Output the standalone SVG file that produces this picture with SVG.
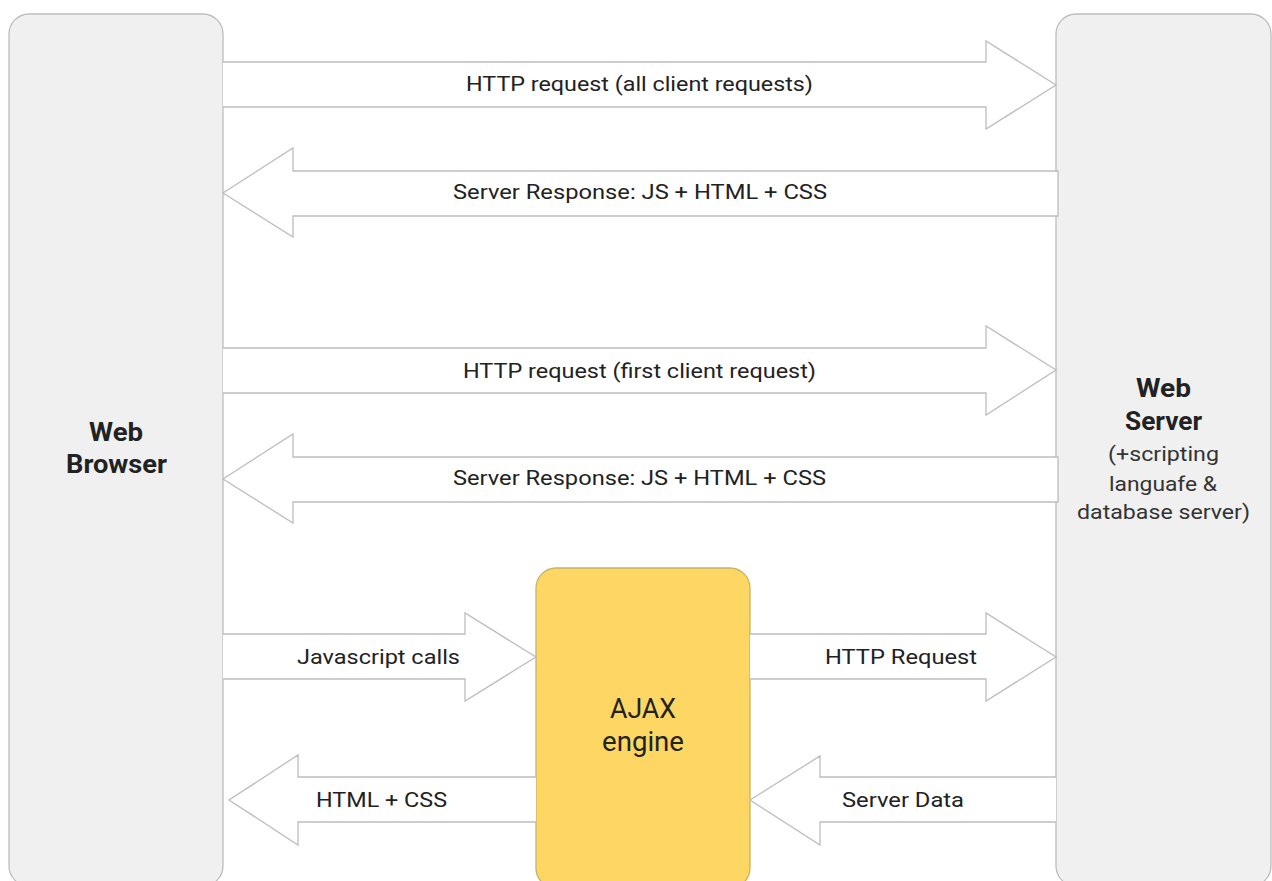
<svg xmlns="http://www.w3.org/2000/svg" width="1272" height="881" viewBox="0 0 1272 881">
<style>
.box{fill:#f0f0f0;stroke:#bdbdbd;stroke-width:1.3}
.ajax{fill:#fdd663;stroke:#c8b26a;stroke-width:1.3}
.arr{fill:#ffffff;stroke:#bdbdbd;stroke-width:1.3;stroke-linejoin:miter}
text{font-family:Roboto,"Liberation Sans",sans-serif;fill:#222;text-anchor:middle}
.lbl{font-size:21px}
.title{font-size:25px;font-weight:bold}
.sub{font-size:21px;fill:#333}
.big{font-size:27px}
</style>
<rect width="1272" height="881" fill="#ffffff"/>
<g id="web-browser">
<rect class="box" x="9" y="14" width="214" height="872" rx="20"/>
<text class="title" x="116" y="441" textLength="54" lengthAdjust="spacingAndGlyphs">Web</text>
<text class="title" x="116.5" y="473" textLength="101" lengthAdjust="spacingAndGlyphs">Browser</text>
</g>
<g id="web-server">
<rect class="box" x="1056" y="14" width="215" height="872" rx="20"/>
<text class="title" x="1163.5" y="397" textLength="55" lengthAdjust="spacingAndGlyphs">Web</text>
<text class="title" x="1163.5" y="430" textLength="77" lengthAdjust="spacingAndGlyphs">Server</text>
<text class="sub" x="1163.5" y="461" textLength="111" lengthAdjust="spacingAndGlyphs">(+scripting</text>
<text class="sub" x="1163" y="491" textLength="108" lengthAdjust="spacingAndGlyphs">languafe &amp;</text>
<text class="sub" x="1163.5" y="519" textLength="173" lengthAdjust="spacingAndGlyphs">database server)</text>
</g>
<g id="ajax-engine">
<rect class="ajax" x="536" y="568" width="214" height="320" rx="20"/>
<text class="big" x="643" y="718" textLength="66" lengthAdjust="spacingAndGlyphs">AJAX</text>
<text class="big" x="643" y="751" textLength="82" lengthAdjust="spacingAndGlyphs">engine</text>
</g>
<g id="connectors">
<g id="c1">
<path class="arr" d="M223,62 H986 V41 L1056,85 L986,129 V107 H223"/>
<text class="lbl" x="639.5" y="91" textLength="347" lengthAdjust="spacingAndGlyphs">HTTP request (all client requests)</text>
</g>
<g id="c2">
<path class="arr" d="M1058,171 H293 V148 L223,193 L293,237 V216 H1058 Z"/>
<text class="lbl" x="640" y="199" textLength="374" lengthAdjust="spacingAndGlyphs">Server Response: JS + HTML + CSS</text>
</g>
<g id="c3">
<path class="arr" d="M223,348 H986 V326 L1056,370 L986,415 V393 H223"/>
<text class="lbl" x="639.5" y="378" textLength="353" lengthAdjust="spacingAndGlyphs">HTTP request (first client request)</text>
</g>
<g id="c4">
<path class="arr" d="M1058,457 H293 V434 L223,479 L293,523 V502 H1058 Z"/>
<text class="lbl" x="639.5" y="485" textLength="373" lengthAdjust="spacingAndGlyphs">Server Response: JS + HTML + CSS</text>
</g>
<g id="c5">
<path class="arr" d="M223,634 H465 V613 L536,657 L465,701 V679 H223"/>
<text class="lbl" x="378.5" y="664" textLength="163" lengthAdjust="spacingAndGlyphs">Javascript calls</text>
</g>
<g id="c6">
<path class="arr" d="M536,777 H298 V755 L229,800 L298,845 V822 H536"/>
<text class="lbl" x="381.5" y="807" textLength="131" lengthAdjust="spacingAndGlyphs">HTML + CSS</text>
</g>
<g id="c7">
<path class="arr" d="M750,634 H986 V613 L1056,657 L986,701 V679 H750"/>
<text class="lbl" x="901" y="664" textLength="152" lengthAdjust="spacingAndGlyphs">HTTP Request</text>
</g>
<g id="c8">
<path class="arr" d="M1056,777 H820 V756 L750,800 L820,845 V822 H1056"/>
<text class="lbl" x="903" y="807" textLength="122" lengthAdjust="spacingAndGlyphs">Server Data</text>
</g>
</g>
</svg>
